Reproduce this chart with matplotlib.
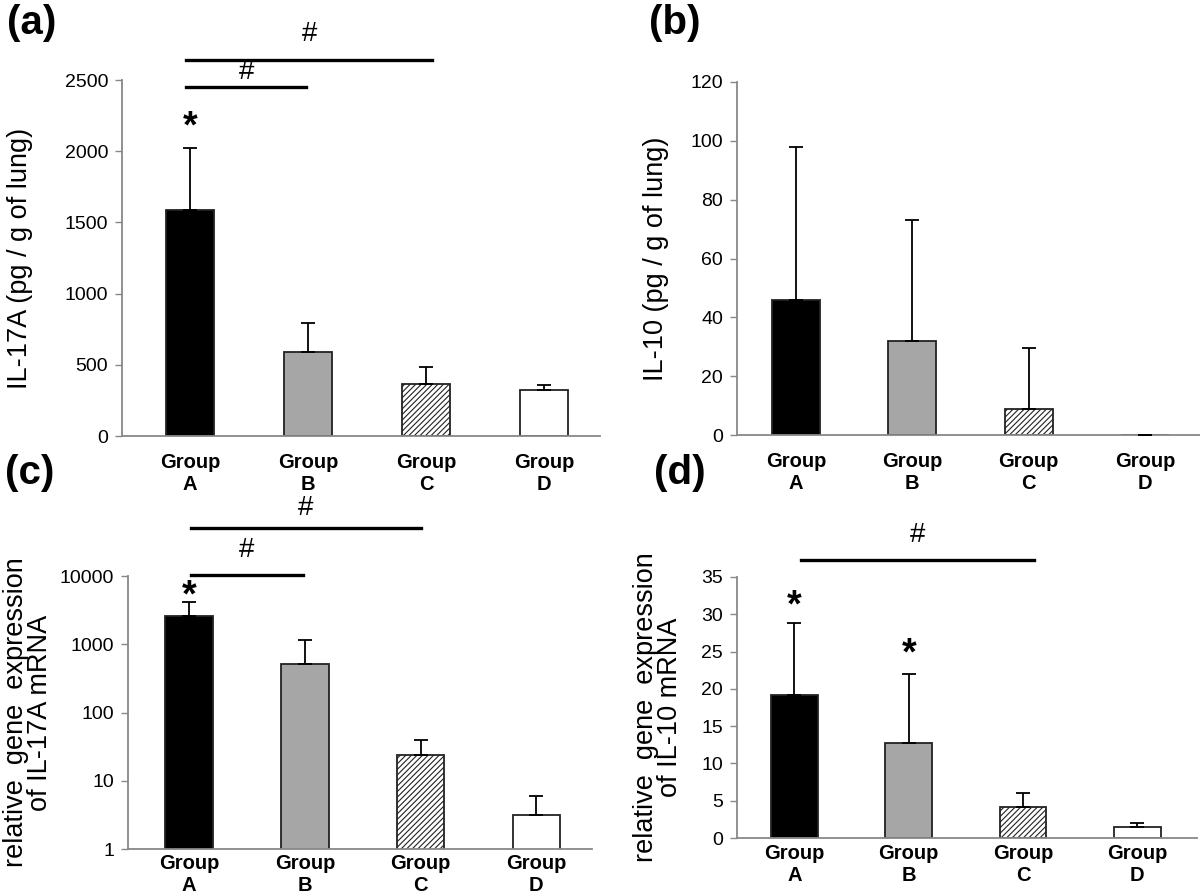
import matplotlib.pyplot as plt
import numpy as np

groups = ["Group\nA", "Group\nB", "Group\nC", "Group\nD"]
colors = ["black", "#a6a6a6", "white", "white"]
hatches = ["", "", "//////", ""]

# panel (a) IL-17A protein
il17a = [1590, 590, 365, 320]
il17a_err = [430, 205, 120, 35]
# panel (b) IL-10 protein
il10 = [46, 32, 9, 0]
il10_err = [52, 41, 20.5, 0]
# panel (c) IL-17A mRNA (log)
il17a_mrna = [2620, 515, 24, 3.15]
il17a_mrna_err = [1480, 635, 16, 2.8]
# panel (d) IL-10 mRNA
il10_mrna = [19.2, 12.7, 4.1, 1.5]
il10_mrna_err = [9.6, 9.3, 2.0, 0.5]

plt.rcParams['font.family'] = ['Liberation Sans', 'DejaVu Sans']
plt.rcParams['hatch.linewidth'] = 0.8

fig = plt.figure(figsize=(12, 8.94), dpi=100)


def bar_panel(rect, vals, errs, ylim, yticks, ylabel, xlim, xpad, log=False):
    ax = fig.add_axes(rect)
    x = np.arange(len(vals))
    ax.bar(x, vals, width=0.41, color=colors, hatch=hatches,
           edgecolor="#222222", linewidth=1.3, zorder=2)
    ax.errorbar(x, vals, yerr=[np.zeros(len(errs)), errs], fmt="none",
                ecolor="black", elinewidth=1.3, capsize=5, capthick=1.3, zorder=3)
    if log:
        ax.set_yscale("log")
    ax.set_ylim(*ylim)
    ax.set_xlim(*xlim)
    ax.set_yticks(yticks)
    ax.set_yticklabels([str(t) for t in yticks], fontsize=14)
    ax.minorticks_off()
    ax.set_xticks(x)
    ax.set_xticklabels(groups, fontsize=14.5, fontweight="bold", linespacing=1.2)
    ax.tick_params(axis="x", length=0, pad=xpad)
    ax.tick_params(axis="y", length=5, color="#888888", width=1, pad=5)
    for s in ["top", "right"]:
        ax.spines[s].set_visible(False)
    for s in ["left", "bottom"]:
        ax.spines[s].set_color("#888888")
        ax.spines[s].set_linewidth(1.3)
    ax.set_ylabel(ylabel, fontsize=19.5, linespacing=0.9)
    return ax


def bracket(ax, x0, x1, y, ytxt):
    ax.plot([x0, x1], [y, y], color="black", lw=2.4, clip_on=False, zorder=4)
    ax.text((x0 + x1) / 2, ytxt, "#", ha="center", va="center", fontsize=20, clip_on=False)


def star(ax, x, y):
    ax.text(x, y, "*", ha="center", va="center", fontsize=27, fontweight="bold", clip_on=False)


# (a)
ax = bar_panel([0.1017, 0.5123, 0.398, 0.3982], il17a, il17a_err, (0, 2500),
               [0, 500, 1000, 1500, 2000, 2500], "IL-17A (pg / g of lung)",
               (-0.576, 3.47), 12)
ax.yaxis.set_label_coords(-0.186, 0.5)
bracket(ax, -0.03, 0.98, 2452, 2555)
bracket(ax, -0.03, 2.05, 2640, 2820)
star(ax, 0.0, 2170)
fig.text(0.006, 0.996, "(a)", fontsize=29, fontweight="bold", va="top")

# (b)
ax = bar_panel([0.614, 0.5134, 0.386, 0.3949], il10, il10_err, (0, 120),
               [0, 20, 40, 60, 80, 100, 120], "IL-10 (pg / g of lung)",
               (-0.507, 3.47), 12)
ax.yaxis.set_label_coords(-0.147, 0.5)
fig.text(0.541, 0.996, "(b)", fontsize=29, fontweight="bold", va="top")

# (c)
ax = bar_panel([0.1067, 0.0503, 0.3866, 0.3054], il17a_mrna, il17a_mrna_err, (1, 10000),
               [1, 10, 100, 1000, 10000], "relative  gene  expression\nof IL-17A mRNA",
               (-0.527, 3.48), 3.5, log=True)
ax.yaxis.set_label_coords(-0.161, 0.5)
bracket(ax, 0.02, 0.98, 10300, 24000)
bracket(ax, 0.02, 2.0, 50000, 98000)
star(ax, 0.0, 5000)
fig.text(0.004, 0.492, "(c)", fontsize=29, fontweight="bold", va="top")

# (d)
ax = bar_panel([0.614, 0.0626, 0.3833, 0.292], il10_mrna, il10_mrna_err, (0, 35),
               [0, 5, 10, 15, 20, 25, 30, 35], "relative  gene  expression\nof IL-10 mRNA",
               (-0.504, 3.52), 4)
ax.yaxis.set_label_coords(-0.117, 0.5)
bracket(ax, 0.06, 2.1, 37.3, 40.6)
star(ax, 0.0, 31.0)
star(ax, 1.0, 24.6)
fig.text(0.545, 0.492, "(d)", fontsize=29, fontweight="bold", va="top")

fig.savefig("out.png", dpi=100, facecolor="white")
